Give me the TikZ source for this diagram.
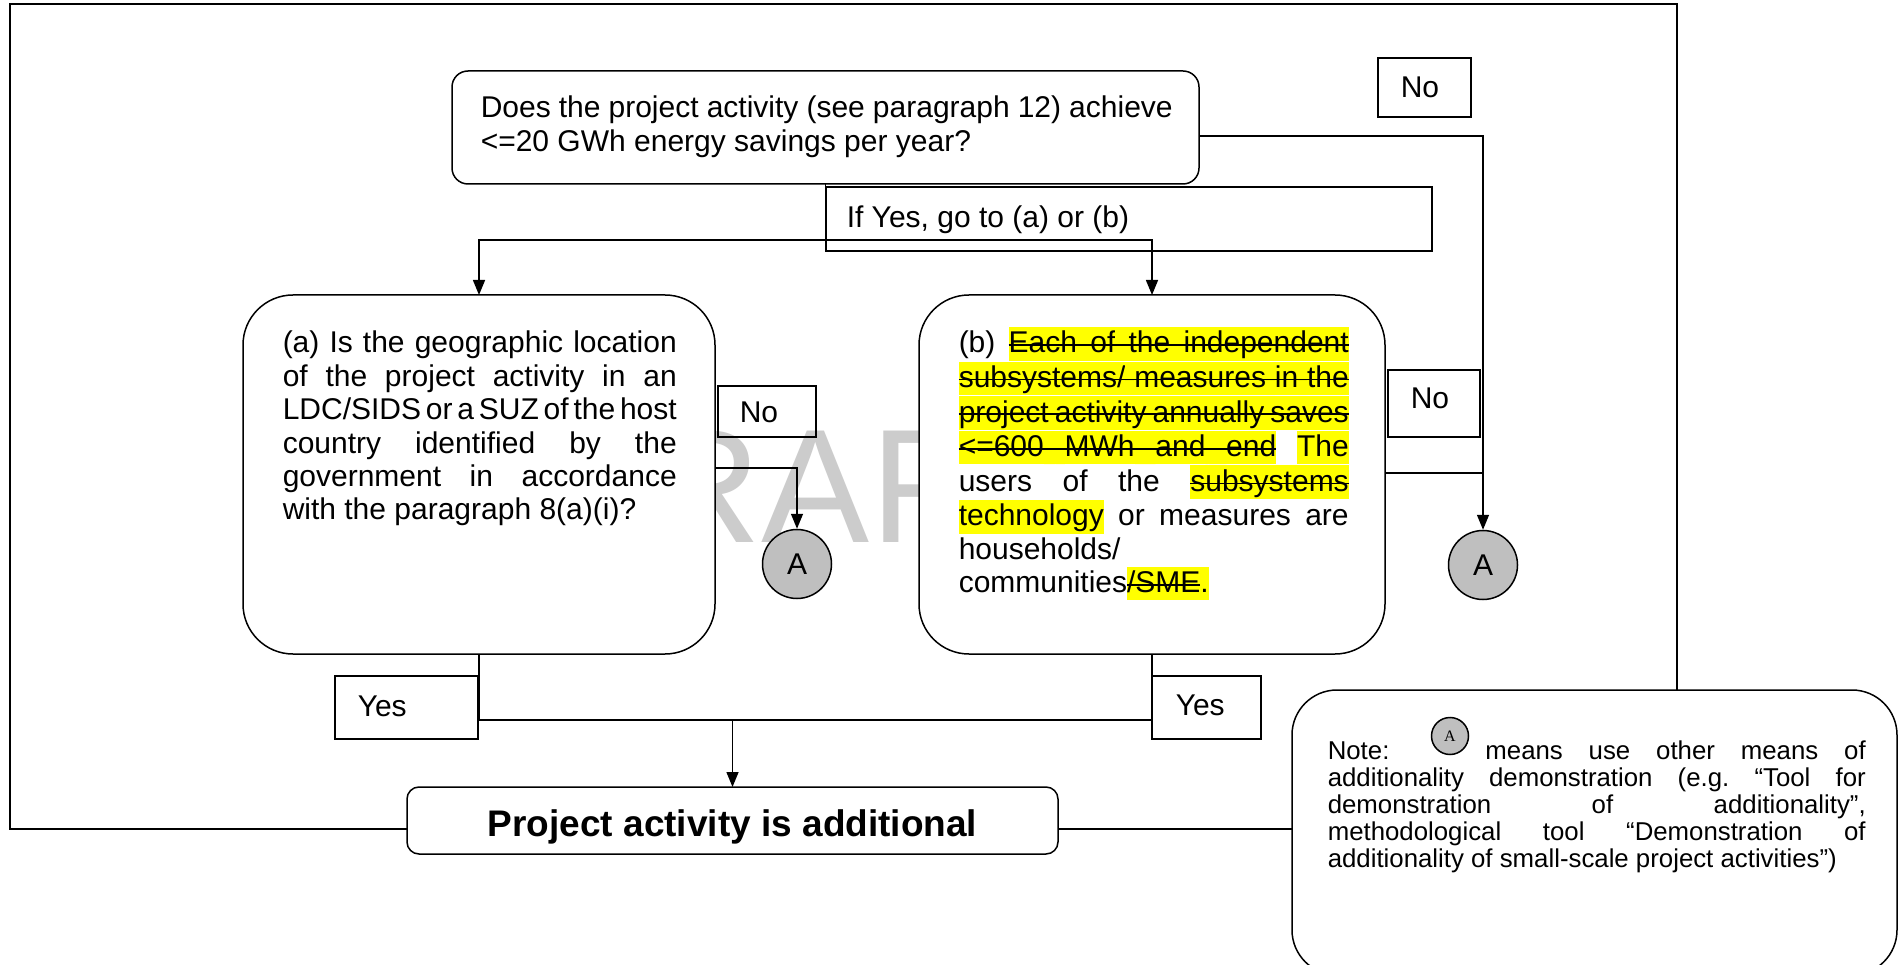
\documentclass[tikz,border=0pt]{standalone}
\usepackage{fontspec}
\setmainfont{Liberation Sans}
\newfontfamily\serifA{Liberation Serif}
\usetikzlibrary{arrows.meta}
\definecolor{hly}{RGB}{255,255,0}
\newcommand\jg{\hskip 0.278em plus 1fil minus 0.15em}
\newcommand\jhs{\xleaders\hbox to 0.5pt{\rlap{\color{hly}\vrule width 0.7pt height 26pt depth 7.6pt}\rlap{\vrule width 0.7pt height 8.8pt depth -7.2pt}\hss}\hskip 0.278em plus 1fil minus 0.15em}
\newcommand\hlst[1]{\setbox0=\hbox{#1}\rlap{\color{hly}\vrule width\wd0 height 26pt depth 7.6pt}\rlap{\vrule width\wd0 height 8.8pt depth -7.2pt}\box0}
\newcommand\hlon[1]{\setbox0=\hbox{#1}\rlap{\color{hly}\vrule width\wd0 height 26pt depth 7.6pt}\box0}
\begin{document}
\begin{tikzpicture}[x=1pt,y=-1pt,line width=1.5pt,
  rbox/.style={draw,fill=white,rounded corners=#1,inner sep=0pt,outer sep=0pt,anchor=north west},
  sbox/.style={draw,inner sep=0pt,outer sep=0pt,anchor=north west},
  circ/.style={circle,draw,fill=black!25,minimum size=69pt,inner sep=0pt,font=\fontsize{30}{33}\selectfont},
  txt/.style={inner sep=0pt,anchor=base west,font=\fontsize{30}{33.4}\selectfont},
  ntxt/.style={inner sep=0pt,anchor=base west,font=\fontsize{25.8}{27}\selectfont},
  arr/.style={-{Triangle[length=15pt,width=12pt]}}]
\useasboundingbox (0,0) rectangle (1899,965);
\fill[white] (0,0) rectangle (1899,965);
% watermark
\node[inner sep=0pt,anchor=base,text=black!20,font=\fontsize{162}{162}\selectfont] (wm) at (798,542) {DRAFT};
% boxes
\node[rbox=16pt,minimum width=747pt,minimum height=113pt] (q0) at (452,71) {};
\node[rbox=50pt,minimum width=472pt,minimum height=359pt] (qa) at (243,295) {};
\node[rbox=50pt,minimum width=466pt,minimum height=359pt] (qb) at (919,295) {};
\node[rbox=12pt,minimum width=651pt,minimum height=67pt] (fin) at (407,787) {};
\node[rbox=45pt,minimum width=605pt,minimum height=285pt] (note) at (1292,690) {};
\node[sbox,minimum width=93pt,minimum height=59pt] (no0) at (1378,58) {};
\node[sbox,minimum width=606pt,minimum height=64pt] (ifyes) at (826,187) {};
\node[sbox,minimum width=98pt,minimum height=51pt] (noa) at (718,386) {};
\node[sbox,minimum width=92pt,minimum height=67pt] (nob) at (1388,370) {};
\node[sbox,minimum width=143pt,minimum height=63pt] (yesa) at (335,676) {};
\node[sbox,minimum width=109pt,minimum height=63pt] (yesb) at (1152,676) {};
\node[circ] (aL) at (797,564) {A};
\node[circ] (aR) at (1483,565) {A};
\node[circ,minimum size=37pt,font=\serifA\fontsize{16}{16}\selectfont] (aN) at (1450,736) {A};
% labels
\node[txt] (lno0) at (1400,98) {No};
\node[txt] (lifyes) at (846,228) {If Yes, go to (a) or (b)};
\node[txt] (lnoa) at (739,423) {No};
\node[txt] (lnob) at (1410,409) {No};
\node[txt] (lyesa) at (357,716) {Yes};
\node[txt] (lyesb) at (1175,715) {Yes};
% texts
\node[txt] (t0) at (480,118) {\vtop{\baselineskip=34pt
  \hbox to 692pt{Does\jg the\jg project\jg activity\jg (see\jg paragraph\jg 12)\jg achieve}
  \hbox{<=20 GWh energy savings per year?}}};
\node[txt] (ta) at (282,353) {\vtop{\baselineskip=33.4pt
  \hbox to 394pt{(a)\jg Is\jg the\jg geographic\jg location}
  \hbox to 394pt{of\jg the\jg project\jg activity\jg in\jg an}
  \hbox to 394pt{LDC/SIDS\jg or\jg a\jg SUZ\jg of\jg the\jg host}
  \hbox to 394pt{country\jg identified\jg by\jg the}
  \hbox to 394pt{government\jg in\jg accordance}
  \hbox{with the paragraph 8(a)(i)?}}};
\node[txt] (tb) at (958,353) {\vtop{\baselineskip=33.4pt
  \hbox to 390pt{(b)\jg\hlst{Each}\jhs\hlst{of}\jhs\hlst{the}\jhs\hlst{independent}}
  \hbox to 390pt{\hlst{subsystems/}\jhs\hlst{measures}\jhs\hlst{in}\jhs\hlst{the}}
  \hbox to 390pt{\hlst{project}\jhs\hlst{activity}\jhs\hlst{annually}\jhs\hlst{saves}}
  \hbox to 390pt{\hlst{<=600}\jhs\hlst{MWh}\jhs\hlst{and}\jhs\hlst{end}\jg\hlon{The}}
  \hbox to 390pt{users\jg of\jg the\jg\hlst{subsystems}}
  \hbox to 390pt{\hlon{technology}\jg or\jg measures\jg are}
  \hbox{households/}
  \hbox{communities\hlst{/SME}\hlon{.}}}};
\node[ntxt] (tn) at (1327,759) {\vtop{\baselineskip=27pt
  \hbox to 538pt{Note:\kern 96pt means\jg use\jg other\jg means\jg of}
  \hbox to 538pt{additionality\jg demonstration\jg (e.g.\jg “Tool\jg for}
  \hbox to 538pt{demonstration\jg of\jg additionality”,}
  \hbox to 538pt{methodological\jg tool\jg “Demonstration\jg of}
  \hbox{additionality of small-scale project activities”)}}};
\node[inner sep=0pt,anchor=base,font=\bfseries\fontsize{37}{40}\selectfont] (tf) at (732.5,836) {Project activity is additional};
% connectors
\coordinate (split) at (q0.south |- 0,240);
\coordinate (join) at (fin.north |- 0,720);
\coordinate (fTL) at (10,4);
\draw (q0.south) -- (split);
\draw[arr] (split) -| (qa.north);
\draw[arr] (split) -| (qb.north);
\draw[arr] ([yshift=-8.5pt]q0.east) -| (aR.north);
\draw[arr] ([yshift=6.5pt]qa.east) -| (aL.north);
\draw ([yshift=1.5pt]qb.east) -- ([yshift=1.5pt]qb.east -| aR.north);
\draw (qa.south) |- (join);
\draw (qb.south) |- (join);
\draw[arr] (join) -- (fin.north);
\draw ([yshift=-8.5pt]fin.west) -| (fTL) -| ([xshift=82.5pt]note.north);
\draw ([yshift=-8.5pt]fin.east) -- ([yshift=-8.5pt]fin.east -| note.west);
\end{tikzpicture}
\end{document}
